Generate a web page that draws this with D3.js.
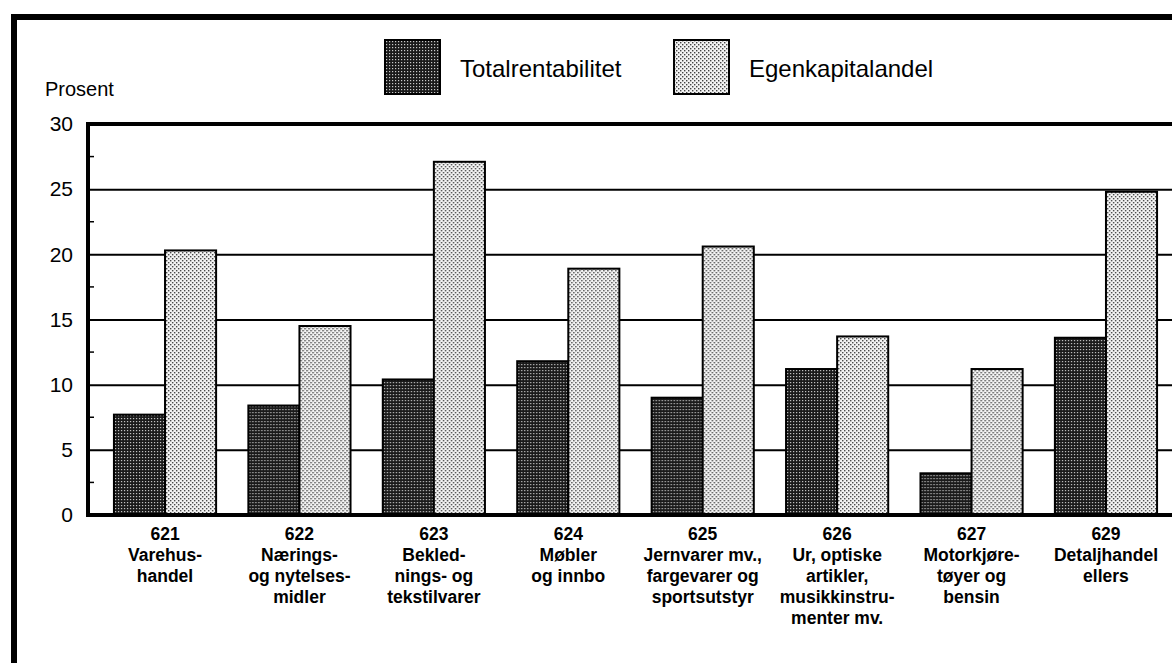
<!DOCTYPE html>
<html>
<head>
<meta charset="utf-8">
<script src="https://cdn.jsdelivr.net/npm/d3@7"></script>
<style>
  body { margin: 0; background: #fff; }
  svg { display: block; font-family: "Liberation Sans", Arial, sans-serif; }
</style>
</head>
<body>
<script>
// data
var codes = ["621", "622", "623", "624", "625", "626", "627", "629"]
var labels = [
	["621", "Varehus-", "handel"],
	["622", "Nærings-", "og nytelses-", "midler"],
	["623", "Bekled-", "nings- og", "tekstilvarer"],
	["624", "Møbler", "og innbo"],
	["625", "Jernvarer mv.,", "fargevarer og", "sportsutstyr"],
	["626", "Ur, optiske", "artikler,", "musikkinstru-", "menter mv."],
	["627", "Motorkjøre-", "tøyer og", "bensin"],
	["629", "Detaljhandel", "ellers"]
]
var series = ["Totalrentabilitet", "Egenkapitalandel"]
var totalrentabilitet = [7.7, 8.4, 10.4, 11.8, 9.0, 11.2, 3.2, 13.6]
var egenkapitalandel = [20.3, 14.5, 27.1, 18.9, 20.6, 13.7, 11.2, 24.8]
var yTicks = [0, 5, 10, 15, 20, 25, 30]
var yMinor = [2.5, 7.5, 12.5, 17.5, 22.5, 27.5]

var width = 1172, height = 663
var margin = {top: 124, left: 88, bottom: 148}
var plotRight = 1200

var data = codes.map((c, i) => ({code: c, values: [totalrentabilitet[i], egenkapitalandel[i]]}))

var svg = d3.select("body").append("svg")
	.attr("width", width)
	.attr("height", height)
	.attr("viewBox", [0, 0, width, height])

// dot screens like the printed original
var defs = svg.append("defs")
var dark = defs.append("pattern").attr("id", "dark")
	.attr("width", 3).attr("height", 3).attr("patternUnits", "userSpaceOnUse")
dark.append("rect").attr("width", 3).attr("height", 3).attr("fill", "#1a1a1a")
dark.append("rect").attr("x", 1).attr("y", 1).attr("width", 1.2).attr("height", 1.2).attr("fill", "#c8c8c8")
var light = defs.append("pattern").attr("id", "light")
	.attr("width", 4).attr("height", 4).attr("patternUnits", "userSpaceOnUse")
light.append("rect").attr("width", 4).attr("height", 4).attr("fill", "#f4f4f4")
light.append("rect").attr("x", 0).attr("y", 0).attr("width", 1.4).attr("height", 1.4).attr("fill", "#444")
light.append("rect").attr("x", 2).attr("y", 2).attr("width", 1.4).attr("height", 1.4).attr("fill", "#444")
var fills = ["url(#dark)", "url(#light)"]

var x = d3.scaleBand()
	.domain(codes)
	.range([margin.left, 1183])
	.paddingInner(0.24)
	.paddingOuter(0.193)

var x1 = d3.scaleBand()
	.domain(series)
	.range([0, x.bandwidth()])

var y = d3.scaleLinear()
	.domain([0, 30])
	.range([height - margin.bottom, margin.top])

// outer frame (right and bottom fall outside the picture)
svg.append("path")
	.attr("d", "M14,663 V17 H1180")
	.attr("fill", "none")
	.attr("stroke", "#000")
	.attr("stroke-width", 6)

// gridlines + tick labels
var gy = svg.append("g")
	.attr("transform", "translate(" + margin.left + ",0)")
	.call(d3.axisLeft(y).tickValues(yTicks).tickSize(-(plotRight - margin.left)).tickPadding(15))
gy.select(".domain").remove()
gy.selectAll(".tick line").attr("stroke", "#000").attr("stroke-width", 2)
gy.selectAll(".tick text")
	.attr("font-size", 21)
	.attr("fill", "#000")
	.attr("font-family", "'Liberation Sans', Arial, sans-serif")

// minor ticks on the left axis
svg.append("g")
	.selectAll("line")
	.data(yMinor)
	.join("line")
	.attr("x1", margin.left)
	.attr("x2", margin.left + 6)
	.attr("y1", d => y(d))
	.attr("y2", d => y(d))
	.attr("stroke", "#000")
	.attr("stroke-width", 1.5)

// bars
svg.append("g")
	.selectAll("g")
	.data(data)
	.join("g")
	.attr("transform", d => "translate(" + x(d.code) + ",0)")
	.selectAll("rect")
	.data(d => d.values.map((v, j) => ({key: series[j], value: v, j: j})))
	.join("rect")
	.attr("x", d => x1(d.key))
	.attr("y", d => y(d.value))
	.attr("width", x1.bandwidth())
	.attr("height", d => y(0) - y(d.value))
	.attr("fill", d => fills[d.j])
	.attr("stroke", "#000")
	.attr("stroke-width", 2)

// axis frame lines
svg.append("path")
	.attr("d", "M" + plotRight + "," + y(30) + " H" + margin.left + " V" + y(0) + " H" + plotRight)
	.attr("fill", "none")
	.attr("stroke", "#000")
	.attr("stroke-width", 4)

// category labels
var gx = svg.append("g")
	.attr("transform", "translate(0," + y(0) + ")")
	.call(d3.axisBottom(x).tickSize(0).tickFormat(""))
gx.select(".domain").remove()
gx.selectAll(".tick").each(function(d, i) {
	var t = d3.select(this).append("text")
		.attr("text-anchor", "middle")
		.attr("font-size", 17.5)
		.attr("font-weight", "bold")
		.attr("fill", "#000")
		.attr("font-family", "'Liberation Sans', Arial, sans-serif")
	t.selectAll("tspan")
		.data(labels[i])
		.join("tspan")
		.attr("x", 0)
		.attr("y", (l, k) => 25 + k * 21)
		.text(l => l)
})

// y title
svg.append("text")
	.attr("x", 45)
	.attr("y", 96)
	.attr("font-size", 20)
	.text("Prosent")

// legend
var legend = svg.append("g")
	.selectAll("g")
	.data(series)
	.join("g")
	.attr("transform", (d, i) => "translate(" + [385, 674][i] + ",40)")
legend.append("rect")
	.attr("width", 55)
	.attr("height", 54)
	.attr("fill", (d, i) => fills[i])
	.attr("stroke", "#000")
	.attr("stroke-width", 2)
legend.append("text")
	.attr("x", 75)
	.attr("y", 37)
	.attr("font-size", 24)
	.text(d => d)
</script>
</body>
</html>
